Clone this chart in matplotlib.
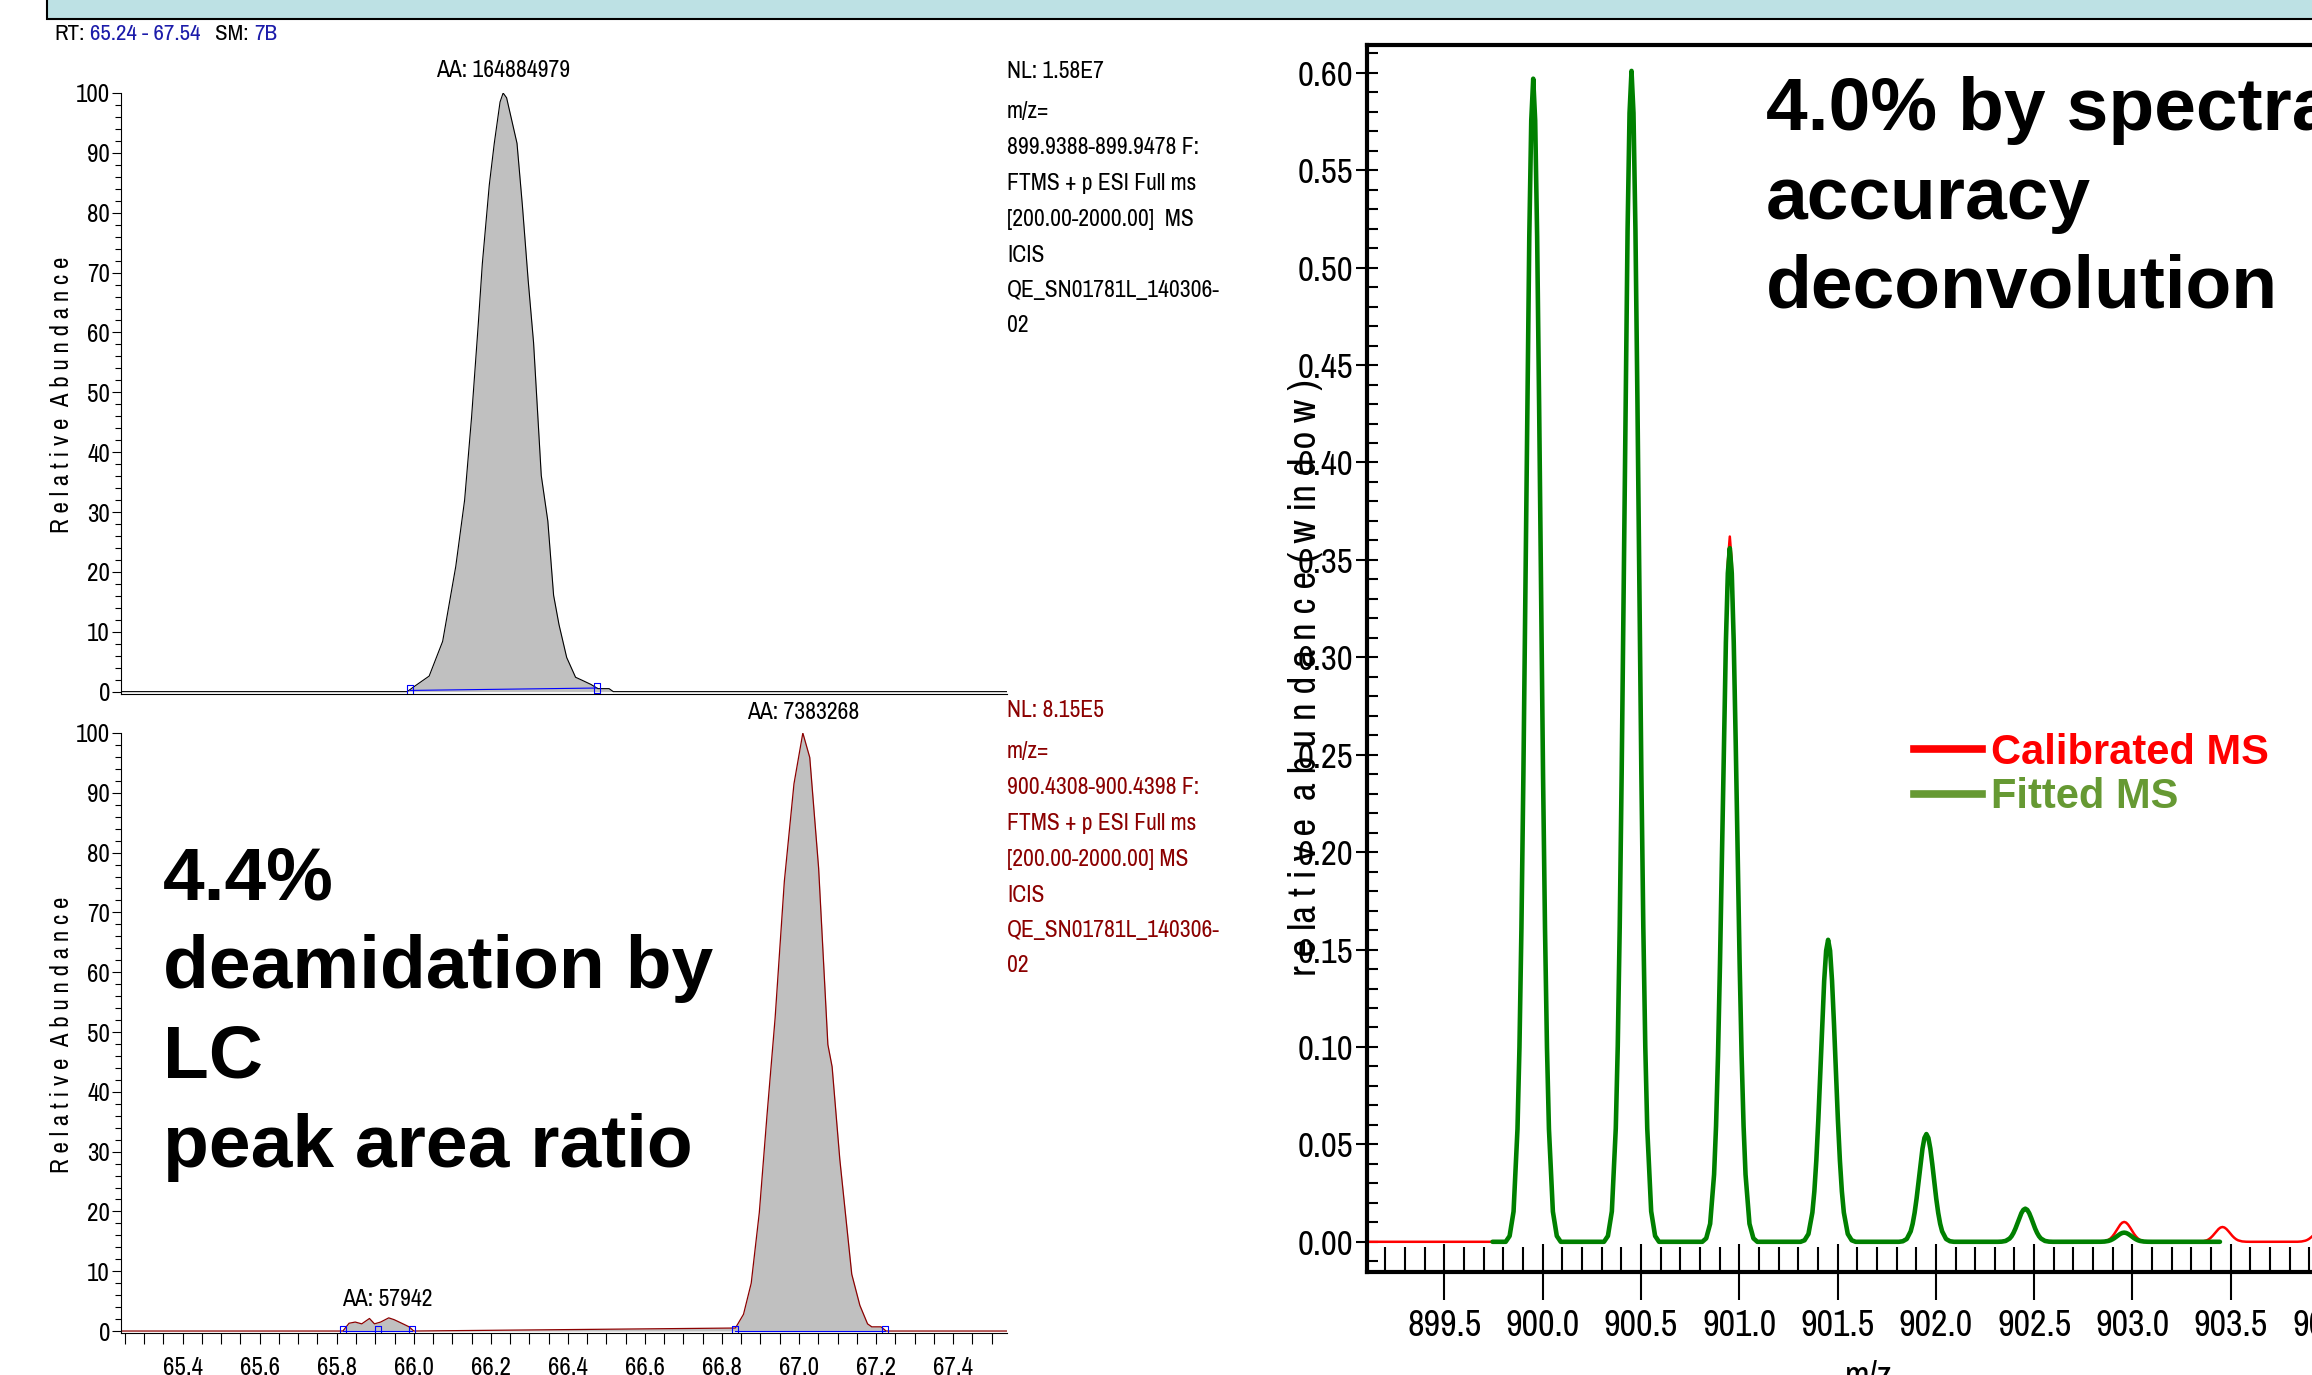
import matplotlib
matplotlib.use("Agg")
import matplotlib.pyplot as plt
from matplotlib.ticker import MultipleLocator, FormatStrFormatter
from matplotlib.lines import Line2D
from matplotlib.patches import Rectangle

W, H = 2312, 1375
NARROW = ['Archivo Narrow', 'Liberation Sans', 'DejaVu Sans']
BOLD = ['Liberation Sans', 'DejaVu Sans']
plt.rcParams['font.family'] = NARROW

# chromatogram of the native peptide (m/z 899.9388-899.9478)
rt_top = [65.24, 65.983, 66.000, 66.040, 66.075, 66.109, 66.132, 66.150, 66.167, 66.178,
          66.196, 66.209, 66.224, 66.232, 66.241, 66.268, 66.282, 66.297, 66.311, 66.331,
          66.348, 66.363, 66.377, 66.397, 66.420, 66.437, 66.460, 66.478, 66.507, 66.518, 67.54]
ab_top = [0, 0, 0.8, 2.6, 8.4, 20.9, 32.0, 45.8, 61.0, 71.5,
          84.6, 91.6, 98.5, 100.0, 99.2, 91.6, 81.2, 68.7, 58.3, 36.1,
          28.5, 16.1, 11.2, 5.7, 2.4, 1.9, 1.2, 0.5, 0.5, 0, 0]
top_bounds_rt = [65.99, 66.475]
top_bounds_ab = [0.2, 0.6]

# chromatogram of the deamidated form (m/z 900.4308-900.4398)
rt_bot = [65.24, 65.816, 65.832, 65.848, 65.865, 65.885, 65.898, 65.914, 65.935, 65.949,
          65.972, 65.988, 66.000, 66.835, 66.856, 66.876, 66.897, 66.917, 66.938, 66.962,
          66.987, 67.010, 67.028, 67.051, 67.075, 67.086, 67.106, 67.137, 67.158, 67.178,
          67.189, 67.213, 67.226, 67.54]
ab_bot = [0, 0, 1.3, 1.5, 1.2, 2.1, 1.2, 1.5, 2.2, 1.9,
          1.2, 0.7, 0, 0.5, 2.8, 8.0, 19.8, 36.1, 52.3, 75.2,
          91.5, 100.0, 95.9, 77.4, 47.9, 44.2, 28.7, 9.5, 4.3, 1.2,
          0.7, 0.7, 0, 0]
bot_small_rt = [65.816, 65.908, 65.996]
bot_main_rt = [66.835, 67.222]

top_info = ["NL: 1.58E7", "m/z=", "899.9388-899.9478 F:", "FTMS + p ESI Full ms",
            "[200.00-2000.00]  MS", "ICIS", "QE_SN01781L_140306-", "02"]
bot_info = ["NL: 8.15E5", "m/z=", "900.4308-900.4398 F:", "FTMS + p ESI Full ms",
            "[200.00-2000.00] MS", "ICIS", "QE_SN01781L_140306-", "02"]

# isotope envelope
mz_centers = [899.952, 900.452, 900.952, 901.452, 901.952, 902.455, 902.958, 903.458, 903.96]
calibrated_heights = [0.597, 0.601, 0.362, 0.155, 0.0553, 0.017, 0.0102, 0.0076, 0.006]
fitted_heights = [0.597, 0.601, 0.356, 0.155, 0.0553, 0.017, 0.0047]
peak_offsets = [-0.14, -0.12, -0.10, -0.08, -0.07, -0.06, -0.05, -0.04, -0.03, -0.02, -0.01, 0.0,
                0.01, 0.02, 0.03, 0.04, 0.05, 0.06, 0.07, 0.08, 0.10, 0.12, 0.14]
peak_profile = [0.0, 0.005, 0.026, 0.097, 0.167, 0.269, 0.401, 0.557, 0.720, 0.864, 0.964, 1.0,
                0.964, 0.864, 0.720, 0.557, 0.401, 0.269, 0.167, 0.097, 0.026, 0.005, 0.0]
calibrated_range = [899.10, 904.45]
fitted_range = [899.745, 903.445]


def fx(x):
    return x / W


def fy(y):
    return 1 - y / H


def box(left, top, right, bottom):
    return [fx(left), fy(bottom), (right - left) / W, (bottom - top) / H]


def spectrum(rng, centers, heights):
    xs, ys = [rng[0]], [0.0]
    for c, h in zip(centers, heights):
        xs += [c + o for o in peak_offsets]
        ys += [h * p for p in peak_profile]
    xs.append(rng[1])
    ys.append(0.0)
    return xs, ys


fig = plt.figure(figsize=(W / 100, H / 100), dpi=100)
renderer = fig.canvas.get_renderer()

# slide title bar strip
fig.add_artist(Rectangle((fx(47), fy(19)), 1.0, 0.1, transform=fig.transFigure,
                         facecolor='#bde1e4', edgecolor='black', lw=1.5))
blue = '#1c1caa'
x = 54
for piece, color, gap in [("RT:", 'black', 6), ("65.24 - 67.54", blue, 14),
                          ("SM:", 'black', 6), ("7B", blue, 0)]:
    t = fig.text(fx(x), fy(34), piece, va='center', fontsize=16.5, color=color)
    x = t.get_window_extent(renderer).x1 + gap

ax_top = fig.add_axes(box(121, 93, 1007, 693.6))
ax_bot = fig.add_axes(box(121, 733, 1007, 1333))

for ax in (ax_top, ax_bot):
    ax.spines[['top', 'right']].set_visible(False)
    ax.spines[['left', 'bottom']].set_linewidth(0.8)
    ax.set_xlim(65.24, 67.54)
    ax.set_ylim(-0.33, 100)
    ax.yaxis.set_major_locator(MultipleLocator(10))
    ax.yaxis.set_minor_locator(MultipleLocator(2))
    ax.tick_params(axis='y', which='major', direction='out', length=6.5, width=0.8,
                   pad=1.4, labelsize=18)
    ax.tick_params(axis='y', which='minor', direction='out', length=4.5, width=0.8)
    ax.set_ylabel("R e l a t i v e  A b u n d a n c e", fontsize=18, va='center')
    ax.yaxis.set_label_coords(-0.0677, 0.497)

ax_top.set_xticks([])
ax_top.fill_between(rt_top, ab_top, 0, color='#c0c0c0', lw=0)
ax_top.plot(rt_top, ab_top, color='black', lw=0.8)
ax_top.plot(top_bounds_rt, top_bounds_ab, color='#0000ff', lw=0.8)
rect_marker = [(-0.6, -1), (0.6, -1), (0.6, 1), (-0.6, 1), (-0.6, -1)]
ax_top.plot(top_bounds_rt, top_bounds_ab, ls='none', marker=rect_marker, ms=7,
            mfc='none', mec='#0000ff', mew=0.8)
ax_top.text(66.232, 103.7, "AA: 164884979", ha='center', va='center', fontsize=17, clip_on=False)

dark_red = '#8b0000'
ax_bot.fill_between(rt_bot, ab_bot, 0, color='#c0c0c0', lw=0)
ax_bot.plot(rt_bot, ab_bot, color=dark_red, lw=0.9)
ax_bot.plot([bot_small_rt[0], bot_small_rt[-1]], [0, 0], color='#0000ff', lw=0.8)
ax_bot.plot(bot_main_rt, [0, 0], color='#0000ff', lw=0.8)
ax_bot.plot(bot_small_rt + bot_main_rt, [0] * 5, ls='none', marker=rect_marker, ms=7,
            mfc='none', mec='#0000ff', mew=0.8)
ax_bot.xaxis.set_major_locator(MultipleLocator(0.2))
ax_bot.xaxis.set_minor_locator(MultipleLocator(0.05))
ax_bot.xaxis.set_major_formatter(FormatStrFormatter('%.1f'))
ax_bot.tick_params(axis='x', which='both', direction='out', length=8, width=0.8,
                   pad=8.5, labelsize=18)
ax_bot.text(67.011, 103.5, "AA: 7383268", ha='center', va='center', fontsize=17, clip_on=False)
ax_bot.text(65.931, 5.3, "AA: 57942", ha='center', va='center', fontsize=17)

info_offsets = [0, 41, 77, 113, 148, 184, 219, 254]
for line, dy in zip(top_info, info_offsets):
    fig.text(fx(1007), fy(71 + dy), line, va='center', fontsize=17)
for line, dy in zip(bot_info, info_offsets):
    fig.text(fx(1007), fy(711 + dy), line, va='center', fontsize=17, color=dark_red)

for line, base in zip(["4.4%", "deamidation by", "LC", "peak area ratio"], [899, 988, 1077, 1167]):
    fig.text(fx(163), fy(base), line, va='baseline', fontsize=54, fontweight='bold', family=BOLD)

# deconvolution panel (runs past the right edge of the slide)
ax_ms = fig.add_axes(box(1366.5, 44.6, 2412, 1271.8))
x_cal, y_cal = spectrum(calibrated_range, mz_centers, calibrated_heights)
x_fit, y_fit = spectrum(fitted_range, mz_centers, fitted_heights)
ax_ms.plot(x_cal, y_cal, color='#ff0000', lw=1.8)
ax_ms.plot(x_fit, y_fit, color='#008000', lw=3.3, solid_capstyle='round')
ax_ms.set_xlim(899.104, 904.422)
ax_ms.set_ylim(-0.0154, 0.6145)
ax_ms.spines['right'].set_visible(False)
ax_ms.spines[['left', 'top', 'bottom']].set_linewidth(3)
ax_ms.yaxis.set_major_locator(MultipleLocator(0.05))
ax_ms.yaxis.set_minor_locator(MultipleLocator(0.01))
ax_ms.yaxis.set_major_formatter(FormatStrFormatter('%.2f'))
ax_ms.xaxis.set_major_locator(MultipleLocator(0.5))
ax_ms.xaxis.set_minor_locator(MultipleLocator(0.1))
ax_ms.xaxis.set_major_formatter(FormatStrFormatter('%.1f'))
ax_ms.tick_params(axis='y', which='major', direction='inout', length=16, width=1.5,
                  pad=1.5, labelsize=25)
ax_ms.tick_params(axis='y', which='minor', direction='in', length=8, width=1.5)
ax_ms.tick_params(axis='x', which='major', direction='inout', length=41, width=1.5,
                  pad=6, labelsize=26)
ax_ms.tick_params(axis='x', which='minor', direction='in', length=18, width=1.5)
ax_ms.set_ylabel("r e la t i v e  a b u n d a n c e ( w in d o w )", fontsize=28, va='center')
ax_ms.yaxis.set_label_coords(-0.0588, 0.484)
ax_ms.set_xlabel("m/z", fontsize=26, va='top')
ax_ms.xaxis.set_label_coords(0.4806, -0.072)

for line, base in zip(["4.0% by spectral", "accuracy", "deconvolution"], [130, 219, 308]):
    fig.text(fx(1766), fy(base), line, va='baseline', fontsize=54, fontweight='bold', family=BOLD)

handles = [Line2D([], [], color='#ff0000', lw=5.5), Line2D([], [], color='#669933', lw=5.5)]
leg = ax_ms.legend(handles, ["Calibrated MS", "Fitted MS"], loc='center left',
                   bbox_to_anchor=(fx(1914), fy(775)), bbox_transform=fig.transFigure,
                   frameon=False, borderpad=0, borderaxespad=0, handlelength=1.64,
                   handletextpad=0.2, labelspacing=0.1,
                   prop={'family': BOLD, 'weight': 'bold', 'size': 30})
for t, c in zip(leg.get_texts(), ['#ff0000', '#669933']):
    t.set_color(c)

fig.savefig("out.png", dpi=100)
